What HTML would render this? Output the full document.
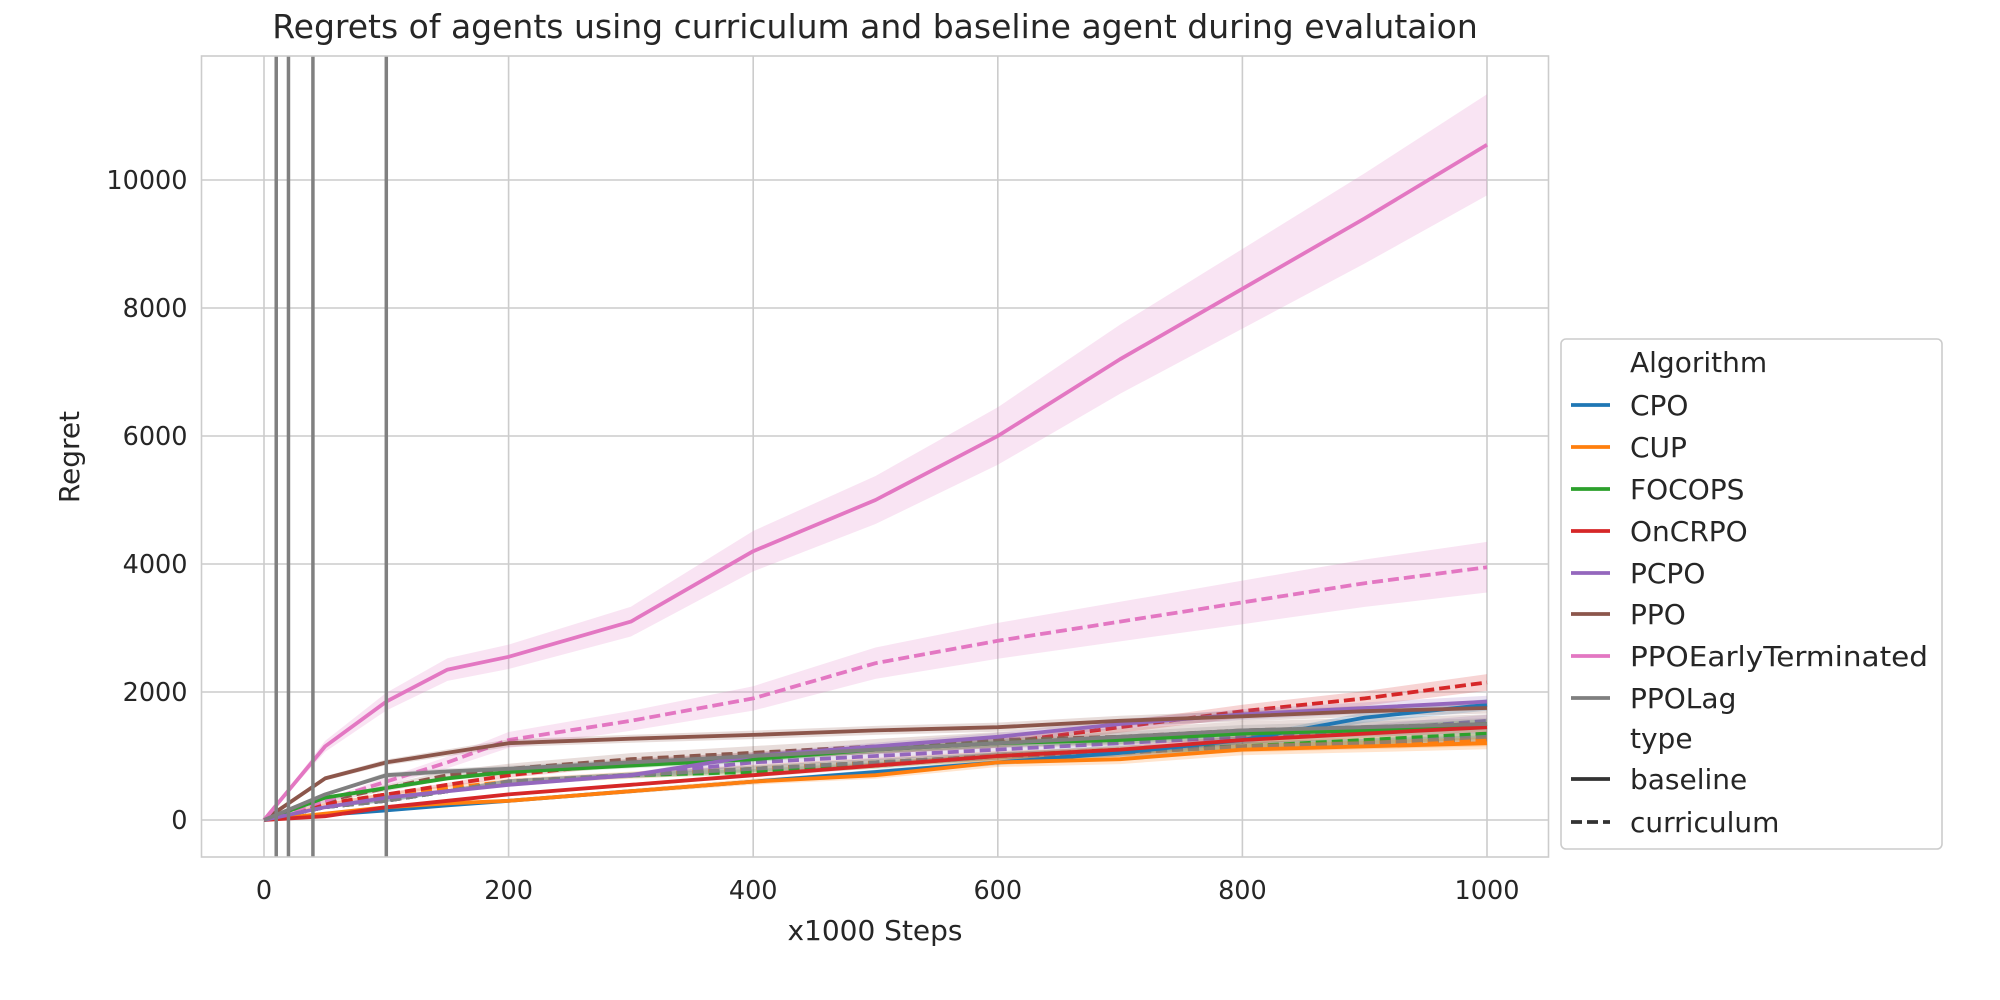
<!DOCTYPE html>
<html><head><meta charset="utf-8"><style>
body{margin:0;background:#fff;}
svg{display:block;font-family:"DejaVu Sans","Liberation Sans",sans-serif;}
</style></head><body>
<svg id="c" width="2000" height="1000"></svg>
<script>
const xs=[0,50,100,150,200,300,400,500,600,700,800,900,1000];
const algos=["CPO","CUP","FOCOPS","OnCRPO","PCPO","PPO","PPOEarlyTerminated","PPOLag"];
const colors=["#1f77b4","#ff7f0e","#2ca02c","#d62728","#9467bd","#8c564b","#e377c2","#7f7f7f"];
const baseCPO=[0,80,150,230,300,450,600,750,900,1050,1250,1600,1800];
const baseCUP=[0,100,200,260,300,450,600,700,900,950,1100,1150,1200];
const baseFOCOPS=[0,350,500,650,750,850,950,1100,1200,1250,1350,1400,1500];
const baseOnCRPO=[0,60,200,300,400,550,700,850,1000,1100,1250,1350,1450];
const basePCPO=[0,200,350,450,550,700,1000,1150,1300,1500,1650,1750,1850];
const basePPO=[0,650,900,1050,1200,1270,1330,1400,1450,1550,1620,1700,1750];
const basePPOET=[0,1150,1850,2350,2550,3100,4200,5000,6000,7200,8300,9400,10550];
const basePPOLag=[0,400,700,760,800,900,1000,1100,1200,1300,1400,1450,1500];
const curCPO=[0,200,300,450,600,700,800,900,1000,1050,1150,1200,1250];
const curCUP=[0,250,400,500,600,700,800,900,1000,1050,1150,1200,1250];
const curFOCOPS=[0,200,300,450,600,700,750,850,1000,1100,1150,1250,1350];
const curOnCRPO=[0,250,400,550,700,900,1000,1100,1200,1450,1700,1900,2150];
const curPCPO=[0,200,300,450,600,700,900,1000,1100,1200,1300,1400,1550];
const curPPO=[0,300,500,700,800,950,1050,1150,1250,1300,1400,1450,1500];
const curPPOET=[0,300,600,900,1250,1550,1900,2450,2800,3100,3400,3700,3950];
const curPPOLag=[0,200,300,450,600,700,800,900,1000,1050,1150,1200,1300];
const baseline=[baseCPO,baseCUP,baseFOCOPS,baseOnCRPO,basePCPO,basePPO,basePPOET,basePPOLag];
const curriculum=[curCPO,curCUP,curFOCOPS,curOnCRPO,curPCPO,curPPO,curPPOET,curPPOLag];
const spreadBase=[0.05,0.08,0.05,0.05,0.05,0.05,0.075,0.06];
const spreadCur=[0.06,0.08,0.06,0.06,0.06,0.1,0.1,0.06];
const xTicks=[0,200,400,600,800,1000];
const yTicks=[0,2000,4000,6000,8000,10000];
const vLines=[10,20,40,100];

const NS="http://www.w3.org/2000/svg",svg=document.getElementById("c");
const L=201.5,R=1548.5,T=56,B=857;
const X=v=>264+v*1.223;
const Y=v=>820-v*0.0640;
function el(t,a,p){const e=document.createElementNS(NS,t);for(const k in a)e.setAttribute(k,a[k]);(p||svg).appendChild(e);return e;}
el("rect",{x:0,y:0,width:2000,height:1000,fill:"#fff"});
xTicks.forEach(t=>{const g=el("line",{x1:X(t),x2:X(t),y1:T,y2:B,stroke:"#cccccc","stroke-width":1.6});

const tx=el("text",{x:X(t),y:B+42,"text-anchor":"middle","font-size":25.5,fill:"#262626"});tx.textContent=t;
});
yTicks.forEach(t=>{const g=el("line",{x1:L,x2:R,y1:Y(t),y2:Y(t),stroke:"#cccccc","stroke-width":1.6});

const tx=el("text",{x:L-14,y:Y(t)+9,"text-anchor":"end","font-size":25.5,fill:"#262626"});tx.textContent=t;
});
function path(arr,k){return arr.map((v,i)=>(i?"L":"M")+X(xs[i]).toFixed(1)+","+Y(v*k).toFixed(1)).join("");}
function band(arr,s){let d=arr.map((v,i)=>(i?"L":"M")+X(xs[i]).toFixed(1)+","+Y(v*(1+s)).toFixed(1)).join("");
for(let i=arr.length-1;i>=0;i--)d+="L"+X(xs[i]).toFixed(1)+","+Y(arr[i]*(1-s)).toFixed(1);return d+"Z";}
[[curriculum,spreadCur,"11 5"],[baseline,spreadBase,null]].forEach(([set,sp,dash])=>{
set.forEach((arr,i)=>{const b=el("path",{d:band(arr,sp[i]),fill:colors[i],"fill-opacity":0.2,stroke:"none"});
});
set.forEach((arr,i)=>{const a={d:path(arr,1),fill:"none",stroke:colors[i],"stroke-width":3.8,"stroke-linejoin":"round"};
if(dash)a["stroke-dasharray"]=dash;const p=el("path",a);
});
});
vLines.forEach(v=>{const l=el("line",{x1:X(v),x2:X(v),y1:T,y2:B,stroke:"#808080","stroke-width":3.5});
});
const fr=el("rect",{x:L,y:T,width:R-L,height:B-T,fill:"none",stroke:"#cccccc","stroke-width":1.6});

</script>
<div style="position:absolute;left:0;top:0;width:2000px;height:1000px;pointer-events:none">
<svg width="2000" height="1000" style="font-family:'DejaVu Sans','Liberation Sans',sans-serif">
<text x="875" y="38" text-anchor="middle" font-size="33" fill="#262626">Regrets of agents using curriculum and baseline agent during evalutaion</text>
<text x="0" y="0" transform="translate(79,457) rotate(-90)" text-anchor="middle" font-size="28" fill="#262626">Regret</text>
<text x="875" y="940" text-anchor="middle" font-size="28" fill="#262626">x1000 Steps</text>
<g font-size="28" fill="#262626">
<rect x="1561" y="339" width="381" height="510" rx="5" fill="#fff" stroke="#cccccc" stroke-width="1.6"/>
<text x="1630" y="372">Algorithm</text>
<g><line x1="1571" x2="1610" y1="405" y2="405" stroke="#1f77b4" stroke-width="3.8"/><text x="1630" y="415">CPO</text></g>
<g><line x1="1571" x2="1610" y1="447" y2="447" stroke="#ff7f0e" stroke-width="3.8"/><text x="1630" y="457">CUP</text></g>
<g><line x1="1571" x2="1610" y1="489" y2="489" stroke="#2ca02c" stroke-width="3.8"/><text x="1630" y="499">FOCOPS</text></g>
<g><line x1="1571" x2="1610" y1="531" y2="531" stroke="#d62728" stroke-width="3.8"/><text x="1630" y="541">OnCRPO</text></g>
<g><line x1="1571" x2="1610" y1="573" y2="573" stroke="#9467bd" stroke-width="3.8"/><text x="1630" y="583">PCPO</text></g>
<g><line x1="1571" x2="1610" y1="614" y2="614" stroke="#8c564b" stroke-width="3.8"/><text x="1630" y="624">PPO</text></g>
<g><line x1="1571" x2="1610" y1="656" y2="656" stroke="#e377c2" stroke-width="3.8"/><text x="1630" y="666" textLength="298" lengthAdjust="spacingAndGlyphs">PPOEarlyTerminated</text></g>
<g><line x1="1571" x2="1610" y1="698" y2="698" stroke="#7f7f7f" stroke-width="3.8"/><text x="1630" y="708">PPOLag</text></g>
<text x="1630" y="748">type</text>
<g><line x1="1571" x2="1610" y1="779" y2="779" stroke="#333" stroke-width="3.8"/><text x="1630" y="789">baseline</text></g>
<g><line x1="1571" x2="1610" y1="822" y2="822" stroke="#333" stroke-width="3.8" stroke-dasharray="11 5"/><text x="1630" y="832">curriculum</text></g>
</g>
</svg></div>
</body></html>
